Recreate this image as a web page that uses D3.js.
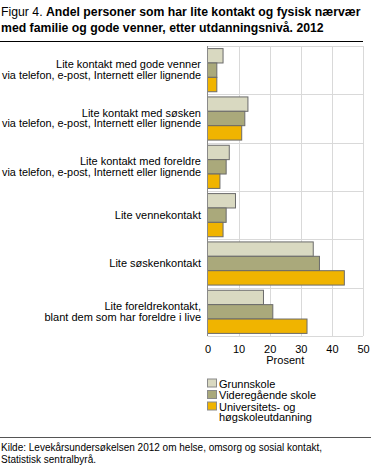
<!DOCTYPE html>
<html>
<head>
<meta charset="utf-8">
<script src="https://cdn.jsdelivr.net/npm/d3@7"></script>
<style>
  body { margin: 0; background: #fff; }
  svg { display: block; font-family: "Liberation Sans", Arial, sans-serif; }
</style>
</head>
<body>
<svg id="chart" width="371" height="466"></svg>
<script>
// ── Data ──────────────────────────────────────────────────────────────────
var categories = [
  ['Lite kontakt med gode venner', 'via telefon, e-post, Internett eller lignende'],
  ['Lite kontakt med søsken', 'via telefon, e-post, Internett eller lignende'],
  ['Lite kontakt med foreldre', 'via telefon, e-post, Internett eller lignende'],
  ['Lite vennekontakt'],
  ['Lite søskenkontakt'],
  ['Lite foreldrekontakt,', 'blant dem som har foreldre i live']
];
var seriesNames = ['Grunnskole', 'Videregående skole', 'Universitets- og høgskoleutdanning'];
var grunnskole    = [5, 13, 7, 9, 34, 18];
var videregaaende = [3, 12, 6, 6, 36, 21];
var universitet   = [3, 11, 4, 5, 44, 32];
var xTicks = [0, 10, 20, 30, 40, 50];

var colors = ['#d9d9c1', '#aaa97b', '#f0b400'];
var series = [grunnskole, videregaaende, universitet];

var svg = d3.select('#chart');

// squeeze a text into a width if the installed font runs wider
function fit(sel, w) {
  sel.each(function () {
    if (this.getComputedTextLength() > w) {
      d3.select(this).attr('textLength', w).attr('lengthAdjust', 'spacingAndGlyphs');
    }
  });
  return sel;
}

// shrink the font until the text fits, so nothing spills past the edge
function shrink(sel, w) {
  var size = parseFloat(sel.style('font-size'));
  while (sel.node().getComputedTextLength() > w && size > 8) {
    size -= 0.25;
    sel.style('font-size', size + 'px');
  }
  return sel;
}

// ── Title ─────────────────────────────────────────────────────────────────
var title = svg.append('text').attr('x', 1).attr('y', 15.5).style('font-size', '13px').attr('fill', '#000');
title.append('tspan').text('Figur 4. ');
title.append('tspan').style('font-weight', 'bold').text('Andel personer som har lite kontakt og fysisk nærvær');
shrink(title, 360);
var title2 = svg.append('text').attr('x', 1).attr('y', 31.5).style('font-size', title.style('font-size'))
  .style('font-weight', 'bold').text('med familie og gode venner, etter utdanningsnivå. 2012');
fit(title2, 336);
svg.append('line').attr('x1', 0).attr('x2', 363).attr('y1', 41.5).attr('y2', 41.5)
  .attr('stroke', '#000').attr('stroke-width', 1);

// ── Scales ────────────────────────────────────────────────────────────────
var x = d3.scaleLinear().domain([0, 50]).range([207.5, 363]);
var y = d3.scaleBand().domain(d3.range(categories.length)).range([46, 336]);
var inner = d3.scaleBand().domain(d3.range(series.length))
  .range([0, y.bandwidth()]).paddingOuter(0.18);

var g = svg.append('g');

// grid
g.selectAll('line.vgrid').data(xTicks.slice(1)).join('line').attr('class', 'vgrid')
  .attr('x1', function (d) { return Math.round(x(d)) + 0.5; })
  .attr('x2', function (d) { return Math.round(x(d)) + 0.5; })
  .attr('y1', 46).attr('y2', 336).attr('stroke', '#d9d9d9');
g.selectAll('line.hgrid').data(d3.range(categories.length + 1)).join('line').attr('class', 'hgrid')
  .attr('x1', x(0)).attr('x2', x(50))
  .attr('y1', function (d) { return Math.round(d < categories.length ? y(d) : 336) + 0.5; })
  .attr('y2', function (d) { return Math.round(d < categories.length ? y(d) : 336) + 0.5; })
  .attr('stroke', '#d9d9d9');

// bars
series.forEach(function (vals, si) {
  g.selectAll('rect.s' + si).data(vals).join('rect').attr('class', 's' + si)
    .attr('x', x(0))
    .attr('y', function (d, i) { return y(i) + inner(si); })
    .attr('width', function (d) { return x(d) - x(0); })
    .attr('height', inner.bandwidth())
    .attr('fill', colors[si])
    .attr('stroke', '#6b6b6b').attr('stroke-width', 1);
});

// axis line
g.append('line').attr('x1', x(0)).attr('x2', x(0)).attr('y1', 46).attr('y2', 336)
  .attr('stroke', '#8a8a8a');

// category labels
categories.forEach(function (lines, i) {
  var cy = y(i) + y.bandwidth() / 2;
  lines.forEach(function (ln, j) {
    fit(svg.append('text').attr('text-anchor', 'end').style('font-size', '11px').attr('fill', '#000')
      .attr('x', 201).attr('y', cy + 3.5 + (j - (lines.length - 1) / 2) * 10.5).text(ln), 199);
  });
});

// x axis
var xAxis = d3.axisBottom(x).tickValues(xTicks).tickSize(0).tickPadding(0);
var ax = svg.append('g').attr('transform', 'translate(0,353)').call(xAxis);
ax.select('.domain').remove();
ax.selectAll('text').style('font-size', '11px').style('font-family', '"Liberation Sans", Arial, sans-serif')
  .attr('fill', '#000').attr('y', 0).attr('dy', null);
svg.append('text').attr('x', x(25)).attr('y', 364).attr('text-anchor', 'middle')
  .style('font-size', '11px').text('Prosent');

// legend
var legendLines = [['Grunnskole'], ['Videregående skole'], ['Universitets- og', 'høgskoleutdanning']];
legendLines.forEach(function (lines, i) {
  var base = 387.5 + i * 11.5;
  svg.append('rect').attr('x', 207.5).attr('y', base - 8.5).attr('width', 9).attr('height', 8)
    .attr('fill', colors[i]).attr('stroke', '#8a8a8a');
  lines.forEach(function (ln, j) {
    svg.append('text').attr('x', 219).attr('y', base + j * 10.5).style('font-size', '11px').text(ln);
  });
});

// footer
svg.append('line').attr('x1', 0).attr('x2', 371).attr('y1', 437.5).attr('y2', 437.5)
  .attr('stroke', '#555');
fit(svg.append('text').attr('x', 1).attr('y', 451).style('font-size', '10px')
  .text('Kilde: Levekårsundersøkelsen 2012 om helse, omsorg og sosial kontakt,'), 321);
svg.append('text').attr('x', 1).attr('y', 463).style('font-size', '10px')
  .text('Statistisk sentralbyrå.');
</script>
</body>
</html>
